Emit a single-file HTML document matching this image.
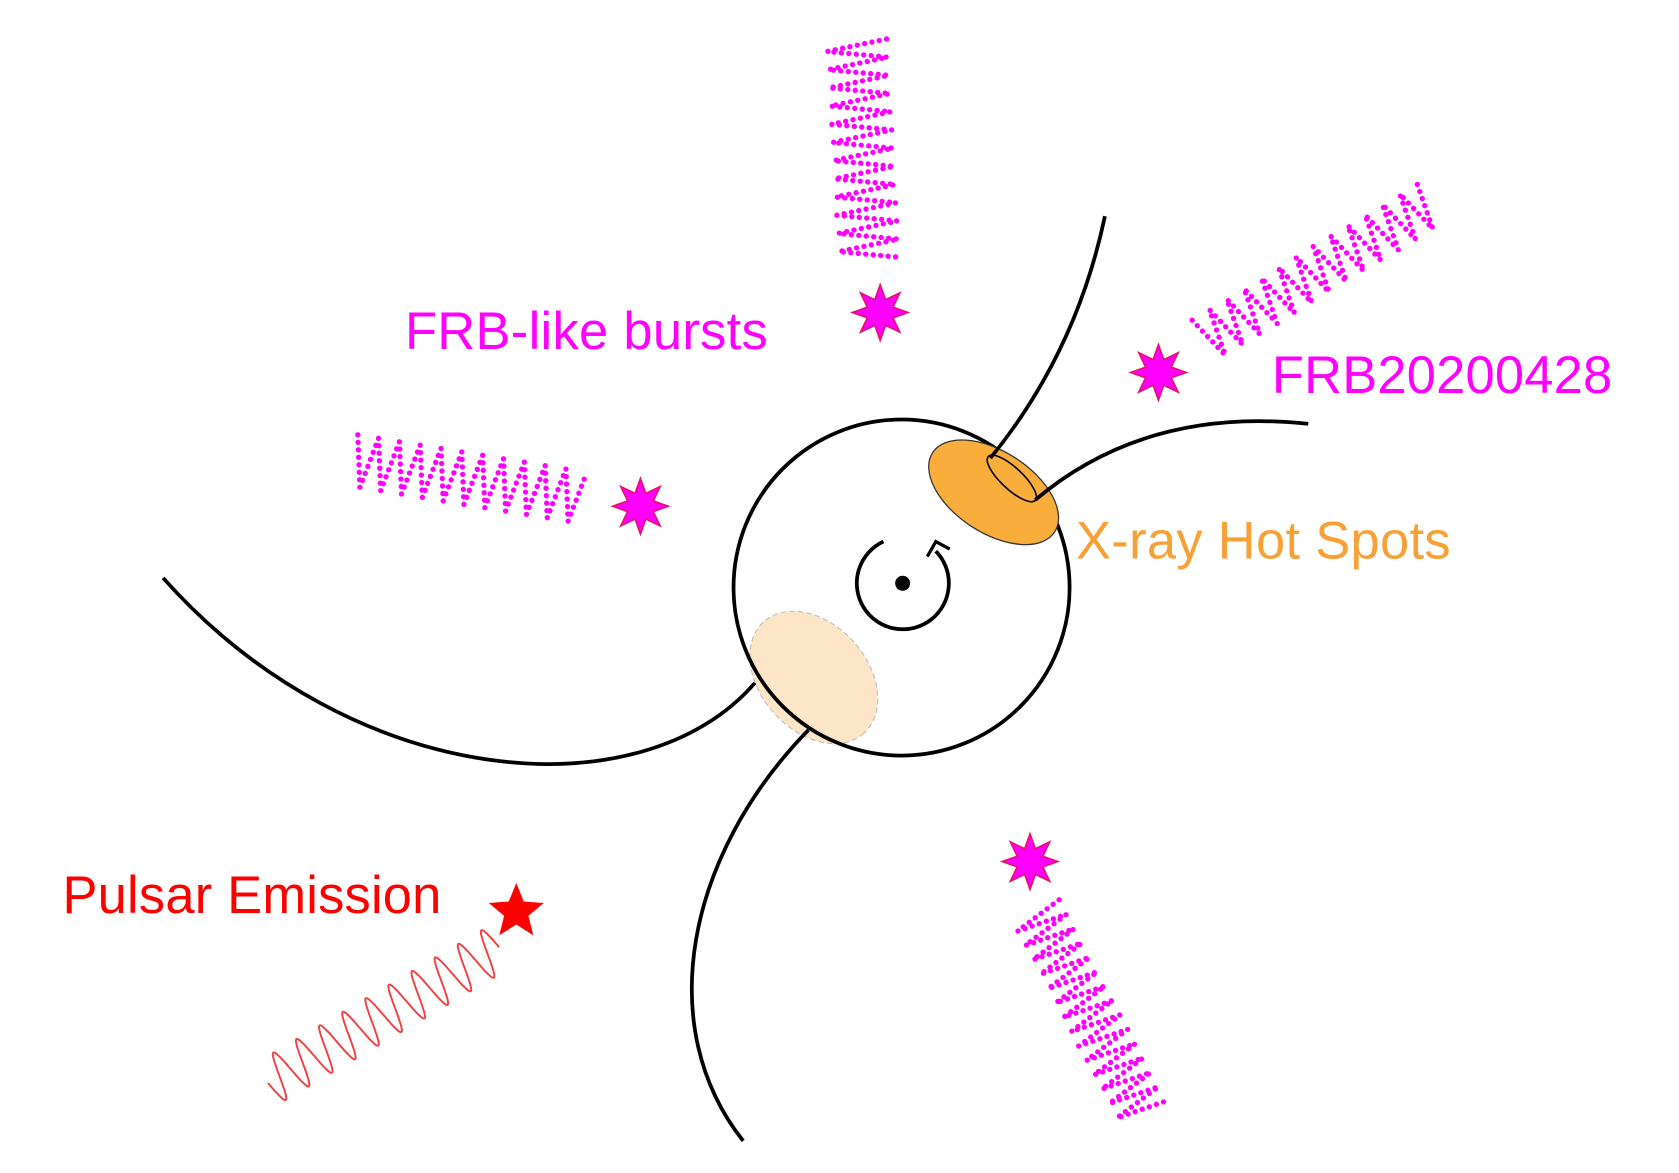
<!DOCTYPE html>
<html><head><meta charset="utf-8"><style>
html,body{margin:0;padding:0;background:#fff;}
svg{display:block}
text{font-family:"Liberation Sans",Arial,sans-serif;font-size:49px}
</style></head><body>
<svg id="s" width="1679" height="1173" viewBox="0 0 1568 1096" xmlns="http://www.w3.org/2000/svg">
<rect width="1568" height="1096" fill="#fff"/>
<g id="waves"></g>
<circle cx="842" cy="549" r="157" fill="#fff" stroke="none"/>
<ellipse cx="760" cy="633" rx="70" ry="50" transform="rotate(48 760 633)" fill="#FDE6C7" stroke="#bbb" stroke-width="1" stroke-dasharray="5 3"/>
<circle cx="842" cy="549" r="157" fill="none" stroke="#000" stroke-width="3.5"/>
<ellipse cx="928" cy="460" rx="68" ry="38" transform="rotate(33 928 460)" fill="#F9AE3C" stroke="#333" stroke-width="1.2"/>
<ellipse cx="945" cy="447" rx="30" ry="10" transform="rotate(43 945 447)" fill="#F9AE3C" stroke="#000" stroke-width="1.5"/>
<g fill="none" stroke="#000" stroke-width="3.5">
<path d="M925,428 Q1005,330 1032,202"/>
<path d="M967,467 Q1070,380 1222,396"/>
<path d="M705,638 C600,760 330,740 152,540"/>
<path d="M755,682 C640,800 610,960 694,1066"/>
</g>
<path d="M825,506 A43,43 0 1 0 874,515" fill="none" stroke="#000" stroke-width="3.5"/>
<path d="M866,520 L874,506 L887,513" fill="none" stroke="#000" stroke-width="3"/>
<circle cx="843" cy="545" r="7" fill="#000"/>
<g id="stars"></g>
<text x="378" y="326" fill="#FF00FF" textLength="339">FRB-like bursts</text>
<text x="1188" y="367" fill="#FF00FF" textLength="318">FRB20200428</text>
<text x="1005" y="522" fill="#F7A035" textLength="350">X-ray Hot Spots</text>
<text x="58" y="853" fill="#FF0000" textLength="354">Pulsar Emission</text>
</svg>
<script>
var NS="http://www.w3.org/2000/svg";
function zig(x1,y1,x2,y2,A,N){
 var dx=x2-x1,dy=y2-y1,L=Math.hypot(dx,dy),nx=-dy/L,ny=dx/L,p=[];
 for(var i=0;i<=2*N;i++){var t=i/(2*N),s=(i%2?1:-1)*A;p.push((x1+dx*t+nx*s).toFixed(1)+","+(y1+dy*t+ny*s).toFixed(1));}
 return "M"+p.join(" L");
}
function sine(x1,y1,x2,y2,A,N){
 var dx=x2-x1,dy=y2-y1,L=Math.hypot(dx,dy),nx=-dy/L,ny=dx/L,p=[];
 for(var i=0;i<=N*40;i++){var t=i/(N*40),s=A*Math.sin(2*Math.PI*N*t);p.push((x1+dx*t+nx*s).toFixed(1)+","+(y1+dy*t+ny*s).toFixed(1));}
 return "M"+p.join(" L");
}
var g=document.getElementById("waves");
function add(d,st){var e=document.createElementNS(NS,"path");e.setAttribute("d",d);for(var k in st)e.setAttribute(k,st[k]);g.appendChild(e);}
var dot={fill:"none",stroke:"#FF00FF","stroke-width":"5","stroke-linecap":"round","stroke-dasharray":"0 7"};
add(zig(800,38,812,242,28,12),dot);
add(zig(330,430,544,465,24,11),dot);
add(zig(1125,318,1335,190,22,13),dot);
add(zig(968,852,1068,1040,24,14),dot);
add(sine(250,1012,466,885,22,10),{fill:"none",stroke:"#F24040","stroke-width":"1.8"});
var sg=document.getElementById("stars");
function star(cx,cy,n,R,r,fill,stroke){var p=[];for(var i=0;i<2*n;i++){var a=-Math.PI/2+i*Math.PI/n,rr=i%2?r:R;p.push((cx+rr*Math.cos(a)).toFixed(1)+","+(cy+rr*Math.sin(a)).toFixed(1));}
 var e=document.createElementNS(NS,"polygon");e.setAttribute("points",p.join(" "));e.setAttribute("fill",fill);e.setAttribute("stroke",stroke);e.setAttribute("stroke-width","1.5");sg.appendChild(e);}
[[822,292],[1082,348],[598,473],[962,805]].forEach(function(c){star(c[0],c[1],8,26,13,"#FF00FF","#E8106A");});
star(482,852,5,25,11,"#FF0000","#FF0000");
</script>
</body></html>
